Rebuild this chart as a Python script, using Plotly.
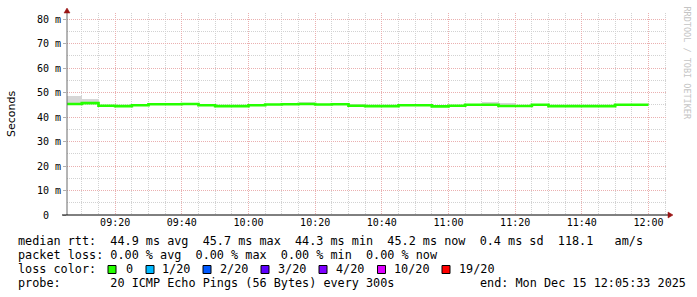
import plotly.graph_objects as go
import pandas as pd

# ---------------- data ----------------
interval_start = [
    "2025-12-15 09:05", "2025-12-15 09:10", "2025-12-15 09:15", "2025-12-15 09:20",
    "2025-12-15 09:25", "2025-12-15 09:30", "2025-12-15 09:35", "2025-12-15 09:40",
    "2025-12-15 09:45", "2025-12-15 09:50", "2025-12-15 09:55", "2025-12-15 10:00",
    "2025-12-15 10:05", "2025-12-15 10:10", "2025-12-15 10:15", "2025-12-15 10:20",
    "2025-12-15 10:25", "2025-12-15 10:30", "2025-12-15 10:35", "2025-12-15 10:40",
    "2025-12-15 10:45", "2025-12-15 10:50", "2025-12-15 10:55", "2025-12-15 11:00",
    "2025-12-15 11:05", "2025-12-15 11:10", "2025-12-15 11:15", "2025-12-15 11:20",
    "2025-12-15 11:25", "2025-12-15 11:30", "2025-12-15 11:35", "2025-12-15 11:40",
    "2025-12-15 11:45", "2025-12-15 11:50", "2025-12-15 11:55",
]
data_end = "2025-12-15 12:00"

median_ms = [
    45.3, 45.7, 44.6, 44.4, 44.8, 45.2, 45.2, 45.3, 44.8, 44.4, 44.4, 44.8,
    45.1, 45.2, 45.3, 45.1, 45.2, 44.6, 44.4, 44.4, 44.8, 44.8, 44.3, 44.6,
    45.0, 45.0, 44.5, 44.5, 45.0, 44.4, 44.4, 44.4, 44.4, 45.0, 45.0,
]
smoke_hi = [
    48.7, 47.2, 44.8, 44.6, 45.0, 45.4, 45.4, 45.5, 45.0, 45.0, 44.6, 45.5,
    45.4, 45.4, 46.1, 45.3, 45.4, 45.3, 44.6, 44.6, 45.0, 45.0, 44.5, 44.8,
    45.2, 46.1, 45.7, 44.7, 45.2, 44.6, 44.6, 44.6, 44.6, 45.2, 45.2,
]
smoke_lo = [
    44.9, 45.3, 44.2, 44.0, 44.4, 44.8, 44.8, 44.9, 44.4, 44.0, 44.0, 44.4,
    44.7, 44.8, 44.9, 44.7, 44.8, 44.2, 44.0, 44.0, 44.4, 44.4, 43.9, 44.2,
    44.6, 44.6, 44.1, 44.1, 44.6, 44.0, 44.0, 44.0, 44.0, 44.6, 44.6,
]

y_tick_vals = [0, 10, 20, 30, 40, 50, 60, 70, 80]
y_tick_text = ["0\u00a0\u00a0", "10 m", "20 m", "30 m", "40 m", "50 m", "60 m", "70 m", "80 m"]

legend_line1 = "median rtt:  44.9 ms avg  45.7 ms max  44.3 ms min  45.2 ms now  0.4 ms sd  118.1   am/s"
legend_line2 = "packet loss: 0.00 % avg  0.00 % max  0.00 % min  0.00 % now"
legend_line3 = "loss color:"
legend_line4 = "probe:       20 ICMP Echo Pings (56 Bytes) every 300s"
legend_end = "end: Mon Dec 15 12:05:33 2025"
loss_labels = ["0", "1/20", "2/20", "3/20", "4/20", "10/20", "19/20"]
loss_colors = ["#26ff00", "#00b8ff", "#0059ff", "#5e00ff", "#7e00ff", "#dd00ff", "#ff0000"]

# ---------------- layout geometry ----------------
W, H = 697, 297
L, R, T, B = 67, 667, 13, 215


def px(x):
    return (x - L) / (R - L)


def py(y):
    return (B - y) / (B - T)


starts = pd.to_datetime(interval_start)
centers = starts + pd.Timedelta(minutes=2.5)

fig = go.Figure()

fig.add_trace(go.Bar(
    x=centers,
    y=[h - l for h, l in zip(smoke_hi, smoke_lo)],
    base=smoke_lo,
    width=300000,
    marker=dict(color="#d6d6d6", line=dict(width=0)),
    hoverinfo="skip",
))

fig.add_trace(go.Scatter(
    x=list(starts) + [pd.Timestamp(data_end)],
    y=median_ms + [median_ms[-1]],
    mode="lines",
    line=dict(shape="hv", color="#26ff00", width=2.7),
    hoverinfo="skip",
))

mono = "DejaVu Sans Mono"

fig.update_layout(
    width=W, height=H,
    margin=dict(l=L, r=W - R, t=T, b=H - B, pad=0),
    paper_bgcolor="#ffffff",
    plot_bgcolor="#ffffff",
    showlegend=False,
    hovermode=False,
    bargap=0,
    xaxis=dict(
        type="date",
        range=["2025-12-15 09:05:33", "2025-12-15 12:05:33"],
        tick0="2025-12-15 09:20:00",
        dtick=1200000,
        tickformat="%H:%M",
        showgrid=True,
        gridcolor="#eab0b0",
        griddash="1px,1px",
        gridwidth=1,
        minor=dict(dtick=300000, tick0="2025-12-15 09:05:00", showgrid=True,
                   gridcolor="#d2d2d2", griddash="1px,1px", gridwidth=1),
        showline=False,
        zeroline=False,
        ticks="",
        tickfont=dict(family=mono, size=10, color="#000000"),
        fixedrange=True,
    ),
    yaxis=dict(
        range=[0, 82.45],
        tickvals=y_tick_vals,
        ticktext=y_tick_text,
        showgrid=True,
        gridcolor="#eab0b0",
        griddash="1px,1px",
        gridwidth=1,
        minor=dict(dtick=5, showgrid=True, gridcolor="#d2d2d2", griddash="1px,1px", gridwidth=1),
        showline=False,
        zeroline=False,
        ticks="outside",
        ticklen=3,
        tickcolor="#b0b0b0",
        tickfont=dict(family=mono, size=10, color="#000000"),
        fixedrange=True,
    ),
)

shapes = [
    # left axis
    dict(type="line", xref="paper", yref="paper", x0=px(67), x1=px(67), y0=py(215), y1=py(11),
         line=dict(color="#6a6a6a", width=1)),
    # bottom axis
    dict(type="line", xref="paper", yref="paper", x0=px(62), x1=px(668), y0=py(215), y1=py(215),
         line=dict(color="#000000", width=1)),
    # top arrow
    dict(type="path", xref="paper", yref="paper",
         path=f"M {px(64)} {py(13)} L {px(70)} {py(13)} L {px(67)} {py(8)} Z",
         fillcolor="#9a1414", line=dict(color="#9a1414", width=0.5)),
    # right arrow
    dict(type="path", xref="paper", yref="paper",
         path=f"M {px(668)} {py(212)} L {px(668)} {py(218)} L {px(673)} {py(215)} Z",
         fillcolor="#9a1414", line=dict(color="#9a1414", width=0.5)),
]

square_x = [108, 146, 203, 261, 319, 377.5, 442]
label_x = [124, 160, 218, 276, 334, 392, 457]
for sx, c in zip(square_x, loss_colors):
    shapes.append(dict(type="rect", xref="paper", yref="paper",
                       x0=px(sx), x1=px(sx + 8), y0=py(273.5), y1=py(265.5),
                       fillcolor=c, line=dict(color="#000000", width=1)))

fig.update_layout(shapes=shapes)

ann = []
ann.append(dict(text="Seconds", x=px(11), y=py(114), xref="paper", yref="paper",
                textangle=-90, showarrow=False, xanchor="center", yanchor="middle",
                font=dict(family="DejaVu Sans", size=11, color="#000000")))
ann.append(dict(text="RRDTOOL / TOBI OETIKER", x=px(686), y=py(4), xref="paper", yref="paper",
                textangle=90, showarrow=False, xanchor="center", yanchor="top",
                font=dict(family=mono, size=8.5, color="#c4c4c4")))

leg_font = dict(family=mono, size=11.8, color="#000000")
for txt, yy in [(legend_line1, 241.3), (legend_line2, 255.3), (legend_line3, 269.3), (legend_line4, 283.3)]:
    ann.append(dict(text=txt.replace(" ", "\u00a0"), x=px(16), y=py(yy), xref="paper", yref="paper",
                    showarrow=False, xanchor="left", yanchor="middle", font=leg_font))
for lx, lab in zip(label_x, loss_labels):
    ann.append(dict(text=lab, x=px(lx), y=py(269.3), xref="paper", yref="paper",
                    showarrow=False, xanchor="left", yanchor="middle", font=leg_font))
ann.append(dict(text=legend_end.replace(" ", "\u00a0"), x=px(478), y=py(283.3), xref="paper", yref="paper",
                showarrow=False, xanchor="left", yanchor="middle", font=leg_font))

fig.update_layout(annotations=ann)

fig.write_html("out.html", config={"displayModeBar": False, "staticPlot": True})
